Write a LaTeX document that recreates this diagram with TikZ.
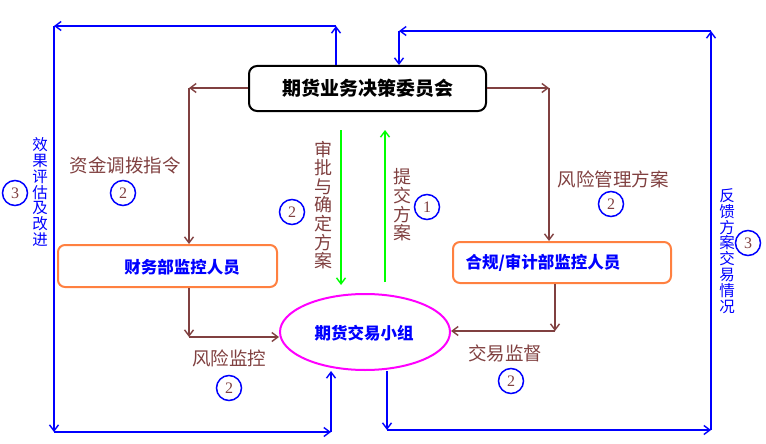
\documentclass[tikz,border=0pt]{standalone}
\usepackage{fontspec}
\setmainfont{Noto Sans CJK SC}
\newfontfamily\numf{Liberation Serif}
\usetikzlibrary{arrows.meta,shapes.geometric}
\definecolor{brn}{RGB}{128,64,64}
\definecolor{blu}{RGB}{0,0,255}
\definecolor{grn}{RGB}{0,255,0}
\definecolor{org}{RGB}{255,128,64}
\definecolor{mag}{RGB}{255,0,255}
\tikzset{
  tip/.style={-{Straight Barb[length=6pt,width=9pt,line width=1.4pt]}},
  bl/.style={blu,line width=2pt,tip},
  br/.style={brn,line width=2pt,tip},
  gr/.style={grn,line width=2pt,tip},
  topbox/.style={draw=black,line width=2pt,rounded corners=8pt,minimum width=237pt,minimum height=45pt,inner sep=0pt,font=\fontsize{19}{19}\selectfont\bfseries},
  obox/.style={draw=org,line width=2pt,rounded corners=7pt,inner sep=0pt},
  ell/.style={draw=mag,line width=2pt,ellipse,minimum width=170pt,minimum height=76pt,inner sep=0pt},
  btxt/.style={blu,inner sep=0pt,font=\fontsize{16.5}{16.5}\selectfont\bfseries},
  lab/.style={brn,inner sep=0pt,font=\fontsize{18.5}{18.5}\selectfont},
  vlab/.style={brn,inner sep=0pt,align=center,font=\fontsize{18}{18.6}\selectfont},
  vblue/.style={blu,inner sep=0pt,align=center,font=\fontsize{15.5}{15.8}\selectfont},
  num/.style={draw=blu,line width=1.5pt,circle,minimum size=25pt,inner sep=0pt,text=brn,font=\numf\fontsize{16}{16}\selectfont}
}
\begin{document}
\begin{tikzpicture}[x=1pt,y=-1pt]
\useasboundingbox (0,0) rectangle (766,444);
% nodes
\node[topbox] (top) at (367.5,88.5) {期货业务决策委员会};
\node[obox,minimum width=219pt,minimum height=42pt] (fin) at (167.5,266) {};
\node[btxt] (finT) at (182,267) {财务部监控人员};
\node[obox,minimum width=218pt,minimum height=41pt] (hg) at (562,262.5) {};
\node[btxt] (hgT) at (543,263) {合规/审计部监控人员};
\node[ell] (grp) at (365,332) {};
\node[btxt] (grpT) at (364,333) {期货交易小组};
% brown connectors
\coordinate (cL1) at (189,88);
\coordinate (cL2) at (189,337);
\coordinate (cR1) at (549,88);
\coordinate (cR2) at (555,331);
\draw[br] (top.west |- cL1) -- (cL1);
\draw[br] (cL1) -- (cL1 |- fin.north);
\draw[br] (cL2 |- fin.south) -- (cL2);
\draw[br] (cL2) -- (cL2 -| grp.west);
\draw[br] (top.east |- cR1) -- (cR1);
\draw[br] (cR1) -- (cR1 |- hg.north);
\draw[br] (cR2 |- hg.south) -- (cR2);
\draw[br] (cR2) -- (cR2 -| grp.east);
% green
\coordinate (g1) at (341,130);
\coordinate (g2) at (341,285);
\coordinate (g3) at (385,282);
\coordinate (g4) at (385,130);
\draw[gr] (g1) -- (g2);
\draw[gr] (g3) -- (g4);
% blue loops
\coordinate (b1) at (336,26);
\coordinate (b2) at (54,26);
\coordinate (b3) at (54,432);
\coordinate (b4) at (331,432);
\coordinate (b5) at (387,430);
\coordinate (b6) at (711,430);
\coordinate (b7) at (711,31);
\coordinate (b8) at (399,31);
\draw[bl] (b1 |- top.north) -- (b1);
\draw[bl] (b1) -- (b2);
\draw[bl] (b2) -- (b3);
\draw[bl] (b3) -- (b4);
\draw[bl] (b4) -- (b4 |- grp.south);
\draw[bl] (b5 |- grp.south) -- (b5);
\draw[bl] (b5) -- (b6);
\draw[bl] (b6) -- (b7);
\draw[bl] (b7) -- (b8);
\draw[bl] (b8) -- (b8 |- top.north);
% labels
\node[lab] (l1) at (125,165) {资金调拨指令};
\node[lab] (l2) at (613,179) {风险管理方案};
\node[lab] (l3) at (229,358) {风险监控};
\node[lab] (l4) at (505,353) {交易监督};
\node[vlab] (v1) at (323,205) {审\\批\\与\\确\\定\\方\\案};
\node[vlab] (v2) at (402,205) {提\\交\\方\\案};
\node[vblue] (v3) at (40,192) {效\\果\\评\\估\\及\\改\\进};
\node[vblue] (v4) at (727,251) {反\\馈\\方\\案\\交\\易\\情\\况};
% circled numbers
\node[num] (n1) at (15,193) {3};
\node[num] (n2) at (123,193) {2};
\node[num] (n3) at (292,212) {2};
\node[num] (n4) at (427,207) {1};
\node[num] (n5) at (611,204) {2};
\node[num] (n6) at (748,243) {3};
\node[num] (n7) at (229,388) {2};
\node[num] (n8) at (511,381) {2};
\end{tikzpicture}
\end{document}
